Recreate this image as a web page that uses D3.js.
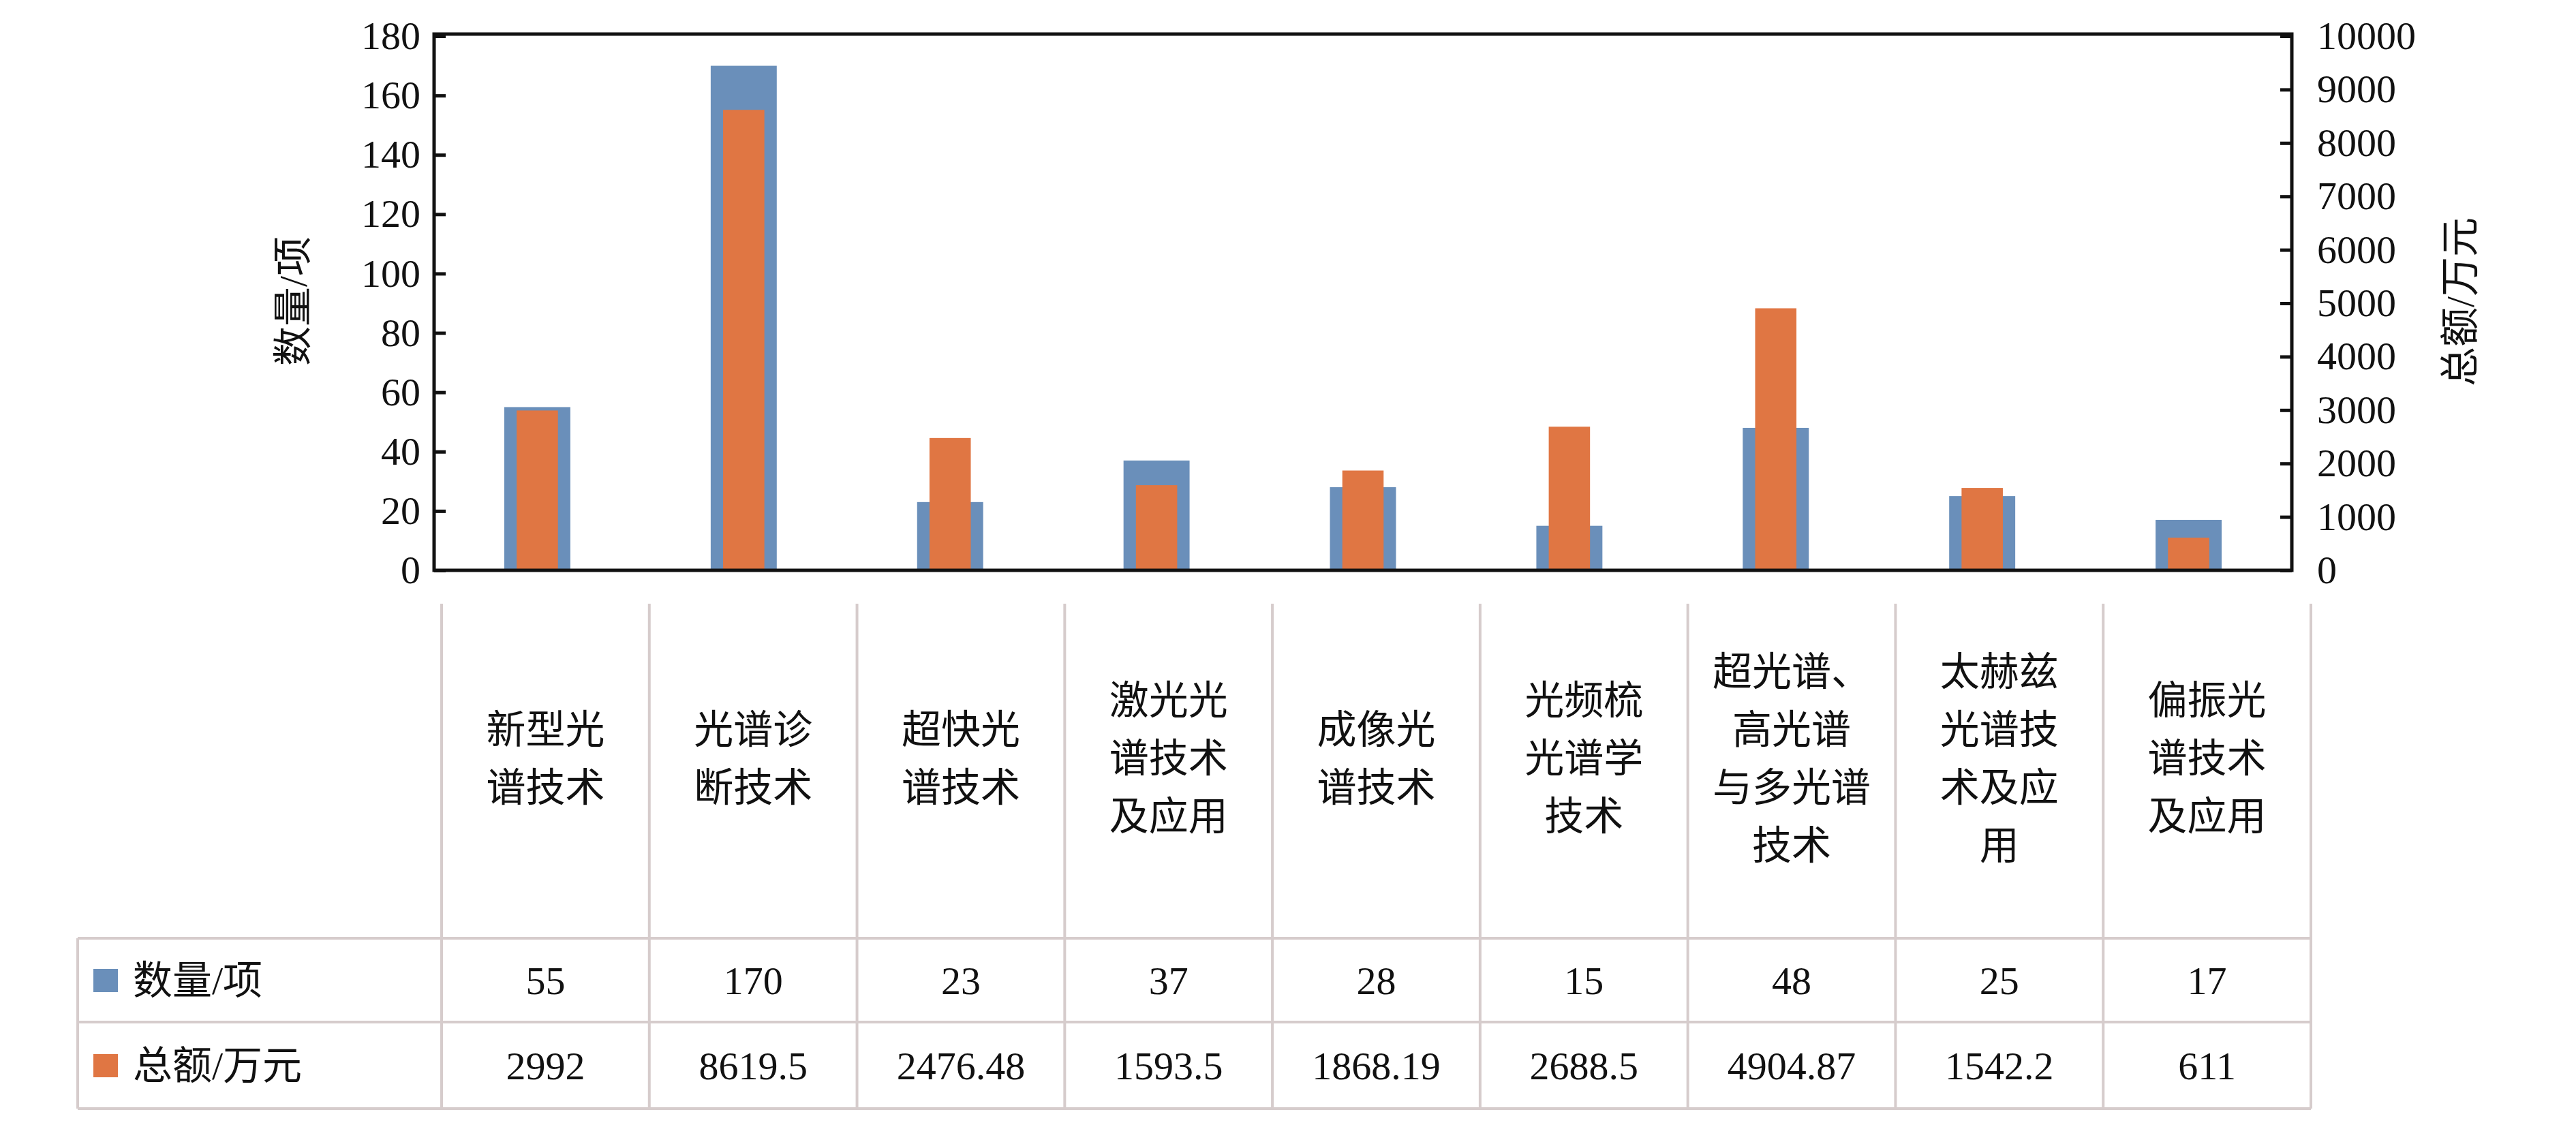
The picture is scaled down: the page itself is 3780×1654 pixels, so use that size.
<!DOCTYPE html>
<html>
<head>
<meta charset="utf-8">
<script src="https://cdnjs.cloudflare.com/ajax/libs/d3/7.8.5/d3.min.js"></script>
<style>
  body { margin: 0; background: #fff; }
  text { font-family: "Liberation Serif", "Noto Sans CJK SC", serif; fill: #111; }
</style>
</head>
<body>
<svg id="chart" width="3780" height="1654"></svg>
<script>
// data
var categories = ['新型光谱技术', '光谱诊断技术', '超快光谱技术', '激光光谱技术及应用', '成像光谱技术',
  '光频梳光谱学技术', '超光谱、高光谱与多光谱技术', '太赫兹光谱技术及应用', '偏振光谱技术及应用'];
var categoryLines = [['新型光', '谱技术'], ['光谱诊', '断技术'], ['超快光', '谱技术'], ['激光光', '谱技术', '及应用'],
  ['成像光', '谱技术'], ['光频梳', '光谱学', '技术'], ['超光谱、', '高光谱', '与多光谱', '技术'],
  ['太赫兹', '光谱技', '术及应', '用'], ['偏振光', '谱技术', '及应用']];
var countValues = [55, 170, 23, 37, 28, 15, 48, 25, 17];
var amountValues = [2992, 8619.5, 2476.48, 1593.5, 1868.19, 2688.5, 4904.87, 1542.2, 611];
var amountLabels = ['2992', '8619.5', '2476.48', '1593.5', '1868.19', '2688.5', '4904.87', '1542.2', '611'];
var seriesNames = ['数量/项', '总额/万元'];
var leftTicks = [0, 20, 40, 60, 80, 100, 120, 140, 160, 180];
var rightTicks = [0, 1000, 2000, 3000, 4000, 5000, 6000, 7000, 8000, 9000, 10000];

var blue = '#6a8fba', orange = '#e07643', gridCol = '#d6cccc';
var svg = d3.select('#chart');

var plot = {left: 637, right: 3363, top: 50, bottom: 837};
var x = d3.scaleBand().domain(categories).range([plot.left, plot.right]);
var yL = d3.scaleLinear().domain([0, 180]).range([plot.bottom, 53]);
var yR = d3.scaleLinear().domain([0, 10000]).range([plot.bottom, 53]);

// bars
var bw = x.bandwidth();
svg.append('g').selectAll('rect').data(categories).join('rect')
  .attr('x', function(d) { return x(d) + bw * 0.34; })
  .attr('width', bw * 0.32)
  .attr('y', function(d, i) { return yL(countValues[i]); })
  .attr('height', function(d, i) { return plot.bottom - yL(countValues[i]); })
  .attr('fill', blue);
svg.append('g').selectAll('rect').data(categories).join('rect')
  .attr('x', function(d) { return x(d) + bw * 0.40; })
  .attr('width', bw * 0.20)
  .attr('y', function(d, i) { return yR(amountValues[i]); })
  .attr('height', function(d, i) { return plot.bottom - yR(amountValues[i]); })
  .attr('fill', orange);

// frame
svg.append('rect').attr('x', plot.left).attr('y', plot.top)
  .attr('width', plot.right - plot.left).attr('height', plot.bottom - plot.top)
  .attr('fill', 'none').attr('stroke', '#111').attr('stroke-width', 5);

// axes
var gl = svg.append('g').attr('transform', 'translate(' + plot.left + ',0)')
  .call(d3.axisRight(yL).tickValues(leftTicks).tickSize(17).tickFormat(d3.format('d')));
gl.selectAll('text').attr('x', -20).attr('text-anchor', 'end').style('font-size', '58px');
var gr = svg.append('g').attr('transform', 'translate(' + plot.right + ',0)')
  .call(d3.axisLeft(yR).tickValues(rightTicks).tickSize(17).tickFormat(d3.format('d')));
gr.selectAll('text').attr('x', 37).attr('text-anchor', 'start').style('font-size', '58px');
[gl, gr].forEach(function(g) {
  g.select('.domain').remove();
  g.selectAll('line').attr('stroke', '#111').attr('stroke-width', 5);
  g.selectAll('text').attr('fill', '#111').attr('font-family', '"Liberation Serif", serif');
});

svg.append('text').attr('transform', 'translate(450,442) rotate(-90)')
  .attr('text-anchor', 'middle').style('font-size', '58px').text(seriesNames[0]);
svg.append('text').attr('transform', 'translate(3630,443) rotate(-90)')
  .attr('text-anchor', 'middle').style('font-size', '58px').text(seriesNames[1]);

// table
var tbl = {left: 114, catLeft: 648, right: 3391, top: 886, row1: 1377, row2: 1500, bottom: 1627};
var colW = (tbl.right - tbl.catLeft) / categories.length;
var tx = d3.scaleBand().domain(categories).range([tbl.catLeft, tbl.right]);
var lines = svg.append('g').attr('stroke', gridCol).attr('stroke-width', 4);
d3.range(categories.length + 1).forEach(function(i) {
  var xx = tbl.catLeft + i * colW;
  lines.append('line').attr('x1', xx).attr('x2', xx).attr('y1', tbl.top).attr('y2', tbl.bottom);
});
lines.append('line').attr('x1', tbl.left).attr('x2', tbl.left).attr('y1', tbl.row1).attr('y2', tbl.bottom);
[tbl.row1, tbl.row2, tbl.bottom].forEach(function(yy) {
  lines.append('line').attr('x1', tbl.left).attr('x2', tbl.right).attr('y1', yy).attr('y2', yy);
});

// category headers
categories.forEach(function(c, i) {
  var parts = categoryLines[i];
  var lh = 85, cy = 1113;
  var t = svg.append('text').attr('text-anchor', 'middle').style('font-size', '58px');
  parts.forEach(function(p, j) {
    t.append('tspan').attr('x', tx(c) + colW / 2)
      .attr('y', cy + (j - (parts.length - 1) / 2) * lh).attr('dy', '0.35em').text(p);
  });
});

// rows
var rows = [{vals: countValues.map(String), col: blue, y: 1439},
            {vals: amountLabels, col: orange, y: 1564}];
rows.forEach(function(r, k) {
  svg.append('rect').attr('x', 137).attr('y', r.y - 17).attr('width', 36).attr('height', 34).attr('fill', r.col);
  svg.append('text').attr('x', 195).attr('y', r.y).attr('dy', '0.35em').style('font-size', '58px').text(seriesNames[k]);
  svg.append('g').selectAll('text').data(categories).join('text')
    .attr('x', function(d) { return tx(d) + colW / 2; })
    .attr('y', r.y).attr('dy', '0.35em').attr('text-anchor', 'middle').style('font-size', '58px')
    .text(function(d, i) { return r.vals[i]; });
});
</script>
</body>
</html>
